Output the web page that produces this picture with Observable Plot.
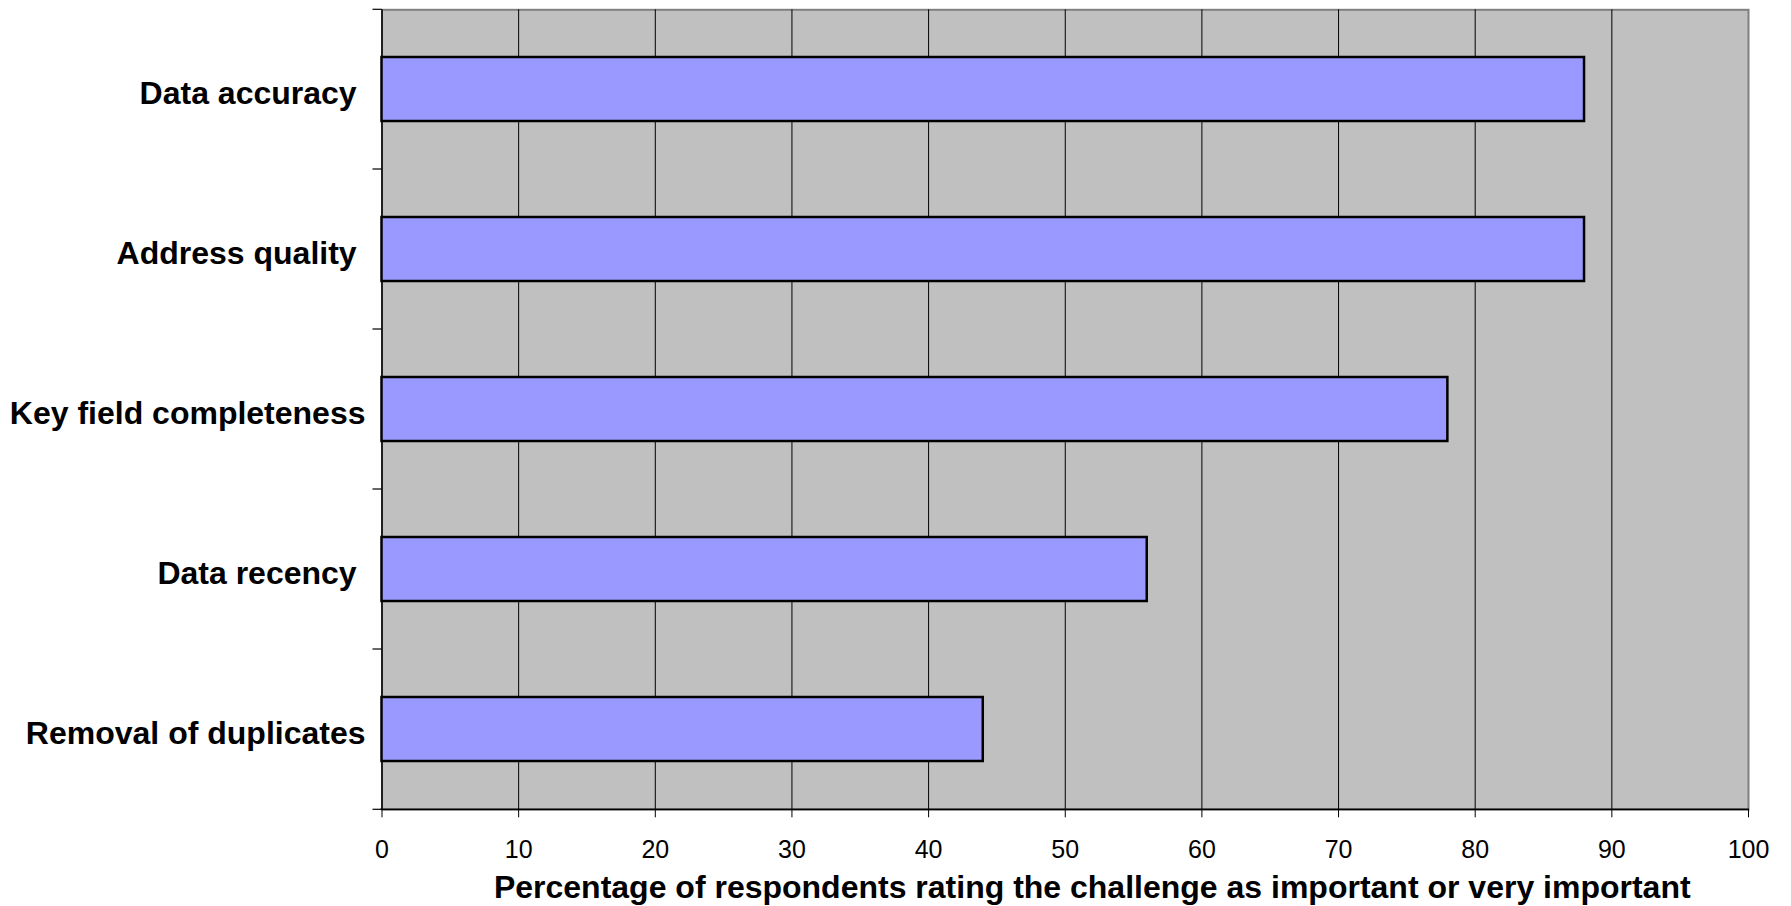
<!DOCTYPE html>
<html>
<head>
<meta charset="utf-8">
<script src="https://cdn.jsdelivr.net/npm/d3@7"></script>
<script src="https://cdn.jsdelivr.net/npm/@observablehq/plot@0.6"></script>
<style>
  html, body { margin: 0; padding: 0; background: #ffffff; }
  #chart svg text { white-space: pre; }
</style>
</head>
<body>
<div id="chart"></div>
<script>
const categories = ["Data accuracy ", "Address quality ", "Key field completeness", "Data recency ", "Removal of duplicates"];
const values = [88, 88, 78, 56, 44];
const xTicks = [0, 10, 20, 30, 40, 50, 60, 70, 80, 90, 100];
const xTitle = "Percentage of respondents rating the challenge as important or very important";

const data = categories.map((c, i) => ({category: c, value: values[i]}));

const W = 1791, H = 906;

function bandFrame(index, scales, vals, dims) {
  const y = scales.y, x = scales.x;
  const bw = y.bandwidth();
  const top = dims.marginTop, bottom = dims.height - dims.marginBottom;
  const left = dims.marginLeft, right = dims.width - dims.marginRight;
  const bounds = [top];
  for (let i = 0; i < categories.length - 1; i++) {
    bounds.push((y(categories[i]) + bw + y(categories[i + 1])) / 2);
  }
  bounds.push(bottom);
  const g = d3.create("svg:g").attr("stroke", "#000").attr("fill", "none");
  for (const b of bounds) {
    g.append("line").attr("x1", left - 9).attr("x2", left).attr("y1", b).attr("y2", b).attr("stroke-width", 1.2);
  }
  g.append("line").attr("x1", x(xTicks[0]) - 1).attr("x2", x(xTicks[xTicks.length - 1]) + 1)
    .attr("y1", bottom).attr("y2", bottom).attr("stroke-width", 1.5);
  return g.node();
}

const chart = Plot.plot({
  width: W,
  height: H,
  marginLeft: 381.5,
  marginRight: 43,
  marginTop: 9.3,
  marginBottom: 96.7,
  style: {fontFamily: "'Liberation Sans', Arial, sans-serif", fontSize: "25px", color: "#000", background: "#ffffff"},
  x: {domain: [xTicks[0], xTicks[xTicks.length - 1]]},
  y: {domain: categories, paddingInner: 0.6, paddingOuter: 0.3},
  marks: [
    Plot.frame({fill: "#c0c0c0", stroke: "#808080", strokeWidth: 2}),
    Plot.gridX({ticks: xTicks.slice(1, -1), stroke: "#000", strokeOpacity: 1, strokeWidth: 1}),
    Plot.ruleX([xTicks[0]], {stroke: "#000", strokeWidth: 1.5}),
    bandFrame,
    Plot.barX(data, {x: "value", y: "category", fill: "#9999ff", stroke: "#000", strokeWidth: 2.5}),
    Plot.axisX({ticks: xTicks, tickSize: 8, tickPadding: 22, fontSize: 25, label: null, stroke: "#000"}),
    Plot.axisY({tickSize: 0, tickPadding: 16.5, fontSize: 32, fontWeight: "bold", label: null, dy: 4.5}),
    Plot.text([xTitle], {frameAnchor: "bottom", textAnchor: "middle", lineAnchor: "bottom", dx: 27, dy: 88, fontSize: 32, fontWeight: "bold", fill: "#000"})
  ]
});

document.getElementById("chart").appendChild(chart);
</script>
</body>
</html>
